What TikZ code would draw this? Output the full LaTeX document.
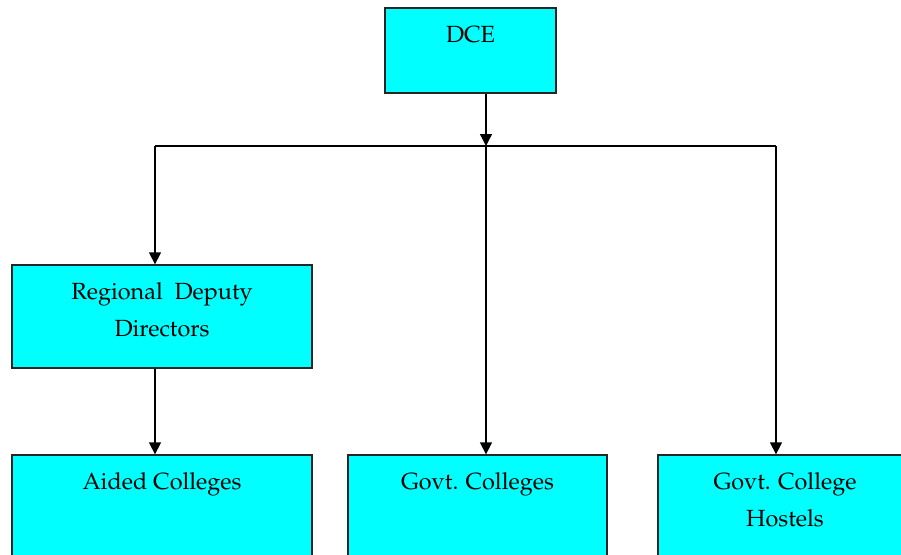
\documentclass[tikz,border=0pt]{standalone}
\usepackage[T1]{fontenc}
\usepackage{mathpazo}
\usetikzlibrary{arrows.meta,calc}

\definecolor{boxcyan}{HTML}{00FFFF}

\tikzset{
  office/.style={draw=black!85, fill=boxcyan, line width=1.3pt, rectangle, inner sep=0pt},
  caption/.style={align=center, inner sep=0pt, anchor=base, font=\fontsize{23.4}{37}\selectfont},
  link/.style={line width=1.3pt, -{Triangle[width=12pt,length=12pt]}},
  bus/.style={line width=1.3pt},
}

\begin{document}
\begin{tikzpicture}[x=1pt,y=-1pt]

            \useasboundingbox (0,0) rectangle (901,554);
            \clip (0,0) rectangle (901,554);

            % The boxes
            \node [office, minimum width=171pt, minimum height=85pt] (dce) at (470.5,50.5) {};
            \node [office, minimum width=300pt, minimum height=103pt] (rdd) at (162,316.5) {};
            \node [office, minimum width=300pt, minimum height=103pt] (aided) at (162,506.5) {};
            \node [office, minimum width=259pt, minimum height=103pt] (govt) at (477.5,506.5) {};
            \node [office, minimum width=254pt, minimum height=103pt] (hostel) at (785,506.5) {};

            % Texts, first baseline 35pt below the top edge (base = last line)
            \foreach \unit/\lab/\n in {
            dce/DCE/0,
            rdd/{Regional\ \ Deputy\\Directors}/1,
            aided/{Aided Colleges}/0,
            govt/{Govt. Colleges}/0,
            hostel/{Govt. College\\Hostels}/1} {
            \node [caption] (\unit-t) at ([yshift=-35pt-\n*37pt]\unit.north) {\lab};
            }

            % Branch points on the bus
            \coordinate (split) at (486,146);
            \coordinate (busL) at (155,146);
            \coordinate (busR) at (776,146);

            \draw[bus] (busL) -- (busR);
            \draw[link] (dce.south -| split) -- (split);
            \draw[link] (busL) -- (busL |- rdd.north);
            \draw[link] (split) -- (split |- govt.north);
            \draw[link] (busR) -- (busR |- hostel.north);
            \draw[link] (busL |- rdd.south) -- (busL |- aided.north);

\end{tikzpicture}
\end{document}
